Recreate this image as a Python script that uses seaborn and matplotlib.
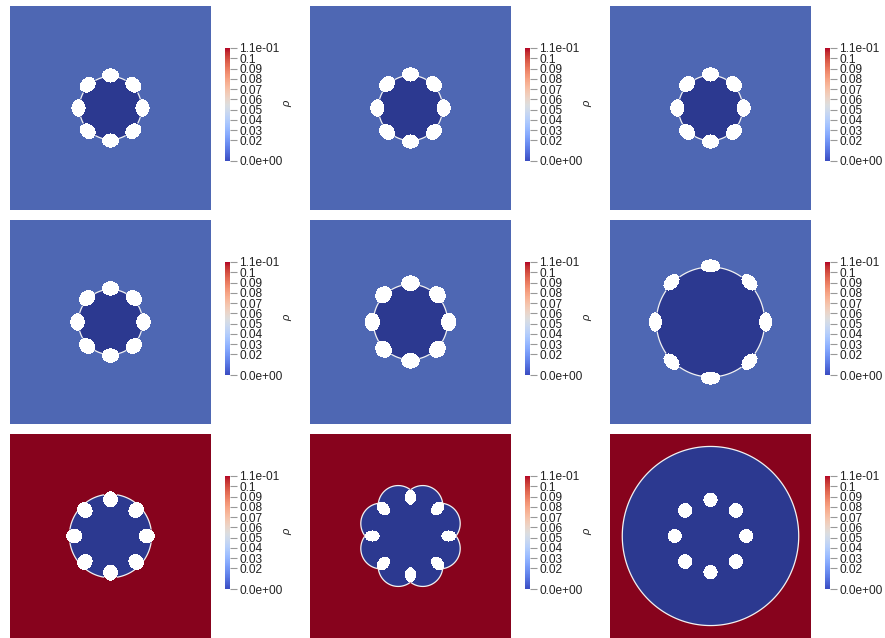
import numpy as np
import matplotlib
matplotlib.use("Agg")
import matplotlib.pyplot as plt
import seaborn as sns
from matplotlib.colors import ListedColormap, Normalize
from matplotlib.cm import ScalarMappable

# ---- data: one entry per panel, row-major (3 x 3) ----
background_rho = [0.016, 0.016, 0.016, 0.016, 0.016, 0.016, 0.11, 0.11, 0.11]
droplet_rho = [0.0, 0.0, 0.0, 0.0, 0.0, 0.0, 0.0, 0.0, 0.0]
core_radius = [0.31, 0.32, 0.32, 0.32, 0.37, 0.54, 0.41, 0.32, 0.88]
lobe_orbit = [0.0, 0.0, 0.0, 0.0, 0.0, 0.0, 0.0, 0.32, 0.0]
lobe_radius = [0.0, 0.0, 0.0, 0.0, 0.0, 0.0, 0.0, 0.20, 0.0]
hole_orbit = [0.32, 0.33, 0.33, 0.33, 0.38, 0.55, 0.36, 0.38, 0.355]
hole_radial = [0.07, 0.07, 0.07, 0.072, 0.078, 0.065, 0.08, 0.075, 0.07]
hole_tangent = [0.085, 0.085, 0.085, 0.085, 0.09, 0.095, 0.072, 0.055, 0.07]
hole_count = 8

rho_min, rho_max = 0.0, 0.11
tick_values = [0.0, 0.02, 0.03, 0.04, 0.05, 0.06, 0.07, 0.08, 0.09, 0.1, 0.11]
tick_labels = ["0.0e+00", "0.02", "0.03", "0.04", "0.05", "0.06", "0.07",
               "0.08", "0.09", "0.1", "1.1e-01"]

sns.set_style("white")
plt.rcParams["font.family"] = ["Liberation Sans", "DejaVu Sans"]

W, H = 885, 638
fig = plt.figure(figsize=(W / 100, H / 100), dpi=100)

base = plt.get_cmap("coolwarm")
bar_cmap = base
shade = 0.75
lit = base(np.linspace(0, 1, 256))
lit[:, :3] *= shade
field_cmap = ListedColormap(lit)

N = 420
g = np.linspace(-1, 1, N)
X, Y = np.meshgrid(g, g)
R = np.hypot(X, Y)
angles = np.deg2rad(np.arange(hole_count) * 360.0 / hole_count)


def px(x, y, w, h):
    return [x / W, 1 - (y + h) / H, w / W, h / H]


for k in range(9):
    row, col = divmod(k, 3)
    ax = fig.add_axes(px(10 + 300 * col, 6 + 214 * row, 201, 204))
    cax = fig.add_axes(px(225 + 300 * col, 48 + 214 * row, 5, 113))

    # droplet outline as a level set
    phi = R - core_radius[k]
    if lobe_radius[k] > 0:
        for a in angles + np.pi / hole_count:
            d = np.hypot(X - lobe_orbit[k] * np.cos(a),
                         Y - lobe_orbit[k] * np.sin(a)) - lobe_radius[k]
            phi = np.minimum(phi, d)
    inside = phi <= 0

    holes = np.zeros_like(inside)
    for a in angles:
        u = X * np.cos(a) + Y * np.sin(a) - hole_orbit[k]
        v = -X * np.sin(a) + Y * np.cos(a)
        holes |= (u / hole_radial[k]) ** 2 + (v / hole_tangent[k]) ** 2 <= 1

    field = np.where(inside, droplet_rho[k], background_rho[k])
    sns.heatmap(field, ax=ax, cmap=field_cmap, vmin=rho_min, vmax=rho_max,
                mask=holes, cbar=False, xticklabels=False, yticklabels=False)
    ax.contour(np.arange(N) + 0.5, np.arange(N) + 0.5,
               np.where(holes, np.nan, phi), levels=[0],
               colors="#f2f2f2", linewidths=0.9)
    ax.set_xlim(0, N)
    ax.set_ylim(N, 0)
    ax.set_axis_off()

    cb = fig.colorbar(ScalarMappable(norm=Normalize(rho_min, rho_max), cmap=bar_cmap),
                      cax=cax, ticks=tick_values)
    cb.outline.set_visible(False)
    cb.ax.set_yticklabels(tick_labels)
    cb.ax.tick_params(length=5, width=0.8, color="#999999", labelsize=8.6,
                      labelcolor="#222222", pad=1.5)
    if col < 2:
        fig.text((287 + 300 * col) / W, 1 - (104 + 214 * row) / H, "ρ",
                 rotation=90, style="italic", fontsize=8, color="#222222",
                 ha="center", va="center")

fig.savefig("out.png", dpi=100)
